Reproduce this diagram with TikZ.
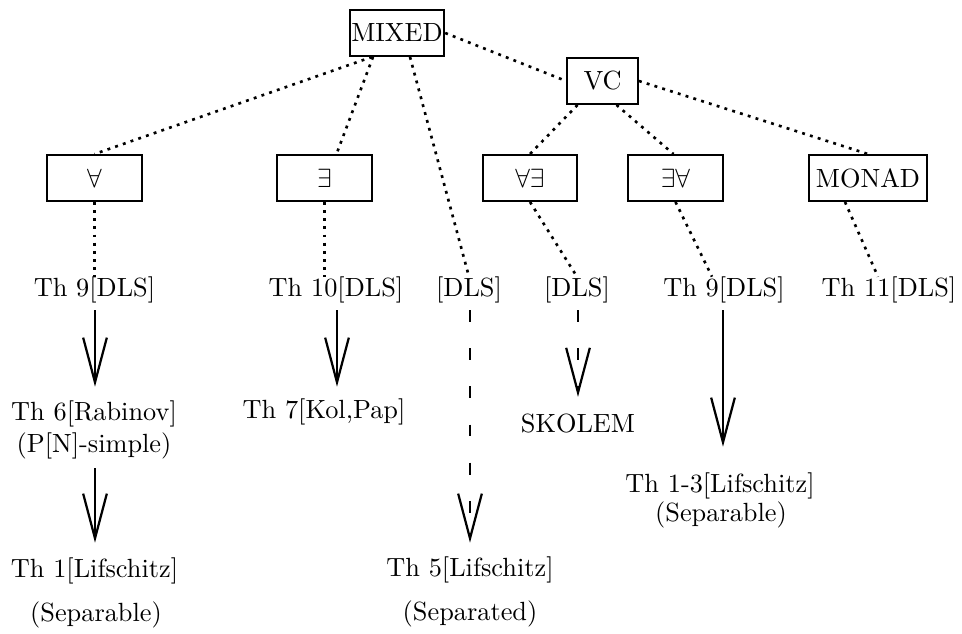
\documentclass[tikz,border=0pt]{standalone}
\usetikzlibrary{arrows.meta,calc}
\begin{document}
\begin{tikzpicture}[x=0.38pt,y=-0.38pt,
  box/.style={draw,line width=0.9pt,minimum height=17.3pt,inner xsep=0.5pt,inner ysep=0pt,font=\normalsize},
  lbl/.style={inner sep=0pt,anchor=base},
  dotline/.style={line width=1pt,dash pattern=on 1.1pt off 2pt},
  arr/.style={line width=0.85pt,-{Straight Barb[length=17pt,width=9pt,line width=0.85pt]}},
  darr/.style={arr,dash pattern=on 4.5pt off 10pt}]
\useasboundingbox (0,0) rectangle (962,634);
% boxes
\node[box,minimum width=35.6pt] (mixed) at (397,33) {MIXED};
\node[box,minimum width=26.8pt] (vc) at (602.5,81) {VC};
\node[box,minimum width=36pt] (fa) at (94.5,178) {$\forall$};
\node[box,minimum width=36pt] (ex) at (324.5,178) {$\exists$};
\node[box,minimum width=35.6pt] (fe) at (530,178) {$\forall\exists$};
\node[box,minimum width=36pt] (ef) at (675.5,178) {$\exists\forall$};
\node[box,minimum width=44.7pt] (monad) at (868,178) {MONAD};
% label row
\node[lbl] (t9a) at (94.5,297) {Th 9[DLS]};
\node[lbl] (t10) at (336,297) {Th 10[DLS]};
\node[lbl] (d1) at (469,297) {[DLS]};
\node[lbl] (d2) at (577,297) {[DLS]};
\node[lbl] (t9b) at (724,297) {Th 9[DLS]};
\node[lbl] (t11) at (889,297) {Th 11[DLS]};
% lower labels
\node[lbl] (th6) at (94,421) {Th 6[Rabinov]};
\node[lbl] (pn) at (94,453) {(P[N]-simple)};
\node[lbl] (th1) at (94.5,578) {Th 1[Lifschitz]};
\node[lbl] (sep1) at (96,622) {(Separable)};
\node[lbl] (th7) at (324,419) {Th 7[Kol,Pap]};
\node[lbl] (th5) at (470,577) {Th 5[Lifschitz]};
\node[lbl] (sep2) at (470,621) {(Separated)};
\node[lbl] (sk) at (578,433) {SKOLEM};
\node[lbl] (th13) at (720,493) {Th 1-3[Lifschitz]};
\node[lbl] (sep3) at (721,522) {(Separable)};
% dotted connectors
\draw[dotline] ($(mixed.south)+(-25,0)$) -- (fa.north);
\draw[dotline] ($(mixed.south)+(-24,0)$) -- ($(ex.north)+(12,0)$);
\draw[dotline] ($(mixed.south)+(13,0)$) -- (d1.north);
\draw[dotline] (mixed.east) -- (vc.west);
\draw[dotline] ($(vc.south)+(-25,0)$) -- (fe.north);
\draw[dotline] ($(vc.south)+(14,0)$) -- ($(ef.north)+(-2,0)$);
\draw[dotline] (vc.east) -- (monad.north);
\draw[dotline] (fa.south) -- (fa.south |- t9a.north);
\draw[dotline] (ex.south) -- (ex.south |- t10.north);
\draw[dotline] (fe.south) -- (d2.north);
\draw[dotline] (ef.south) -- ($(t9b.north)+(-12,0)$);
\draw[dotline] ($(monad.south)+(-23,0)$) -- ($(t11.north)+(-11,0)$);
% arrows
\draw[arr] ($(t9a.south)+(0.5,6)$) -- ($(t9a.south |- th6.north)+(0.5,-14)$);
\draw[arr] ($(pn.south)+(1,8)$) -- ($(pn.south |- th1.north)+(1,-15)$);
\draw[arr] ($(t10.south)+(1,6)$) -- ($(t10.south |- th7.north)+(1,-12)$);
\draw[darr] ($(d1.south)+(1,6)$) -- ($(d1.south |- th5.north)+(1,-14)$);
\draw[darr] ($(d2.south)+(1,6)$) -- ($(d2.south |- sk.north)+(1,-17)$);
\draw[arr] ($(t9b.south)+(-1,6)$) -- ($(t9b.south |- th13.north)+(-1,-26)$);
\end{tikzpicture}
\end{document}
